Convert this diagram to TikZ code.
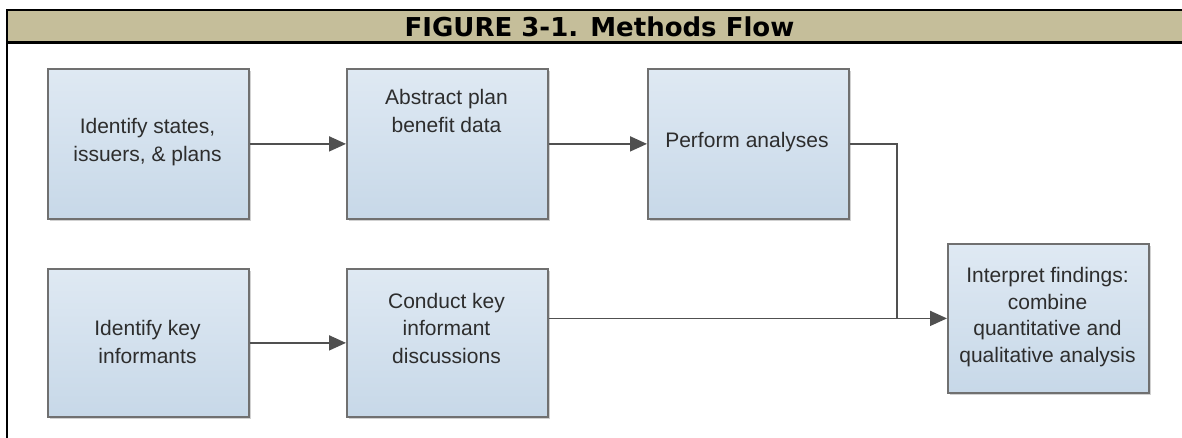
\documentclass[tikz,border=0pt]{standalone}
\usepackage{fontspec}
\setmainfont{Liberation Sans}
\newfontfamily\titlefont{DejaVu Sans}
\usetikzlibrary{arrows.meta,shadows}

\definecolor{band}{RGB}{197,190,154}
\definecolor{boxtop}{RGB}{223,233,243}
\definecolor{boxbot}{RGB}{199,216,232}
\definecolor{boxline}{RGB}{112,112,112}
\definecolor{wire}{RGB}{80,80,80}
\definecolor{ink}{RGB}{45,45,45}

\begin{document}
\begin{tikzpicture}[x=1pt,y=1pt,
  stepbox/.style={draw=boxline, line width=1.8pt, top color=boxtop, bottom color=boxbot,
    minimum width=201pt, minimum height=150pt, inner sep=0pt, anchor=north west,
    drop shadow={shadow xshift=2.5pt, shadow yshift=-2.5pt, opacity=0.3, fill=black!60}},
  boxtext/.style={font=\fontsize{21}{27.5}\selectfont, text=ink, align=center},
  link/.style={draw=wire, line width=1.8pt},
  flow/.style={link, -{Triangle[length=17pt,width=15pt]}}
]
\useasboundingbox (0,0) rectangle (1182,-438);

% title band and frame
\fill[band] (7,-10) rectangle (1182,-42.3);
\draw[line width=2.8pt] (1182,-10) -- (7,-10) -- (7,-438);
\draw[line width=2.8pt] (7,-42.3) -- (1182,-42.3);
\node[font=\titlefont\bfseries\fontsize{26}{30}\selectfont] (title) at (599.5,-26.5) {FIGURE 3-1. Methods Flow};

% step boxes
\node[stepbox] (b1) at (47,-68) {};
\node[stepbox] (b2) at (346,-68) {};
\node[stepbox] (b3) at (647,-68) {};
\node[stepbox, minimum height=148pt] (b4) at (47,-268) {};
\node[stepbox, minimum height=148pt] (b5) at (346,-268) {};
\node[stepbox, minimum height=149pt] (b6) at (947,-243) {};

% box labels
\node[boxtext] (t1) at (147.5,-142) {Identify states,\\issuers, \& plans};
\node[boxtext] (t2) at (446.5,-111) {Abstract plan\\benefit data};
\node[boxtext] (t3) at (747,-142) {Perform analyses};
\node[boxtext] (t4) at (147.5,-342) {Identify key\\informants};
\node[boxtext] (t5) at (446.5,-328) {Conduct key\\informant\\discussions};
\node[boxtext, font=\fontsize{21}{26.7}\selectfont] (t6) at (1047.5,-317) {Interpret findings:\\combine\\quantitative and\\qualitative analysis};

% connectors
\coordinate (join) at (897,-317.5);
\draw[flow] (b1.east) -- (b2.west);
\draw[flow] (b2.east) -- (b3.west);
\draw[flow] (b4.east) -- (b5.west);
\draw[link] (b3.east) -| (join);
\draw[flow] (b5.east |- b6.west) -- (b6.west);
\end{tikzpicture}
\end{document}
